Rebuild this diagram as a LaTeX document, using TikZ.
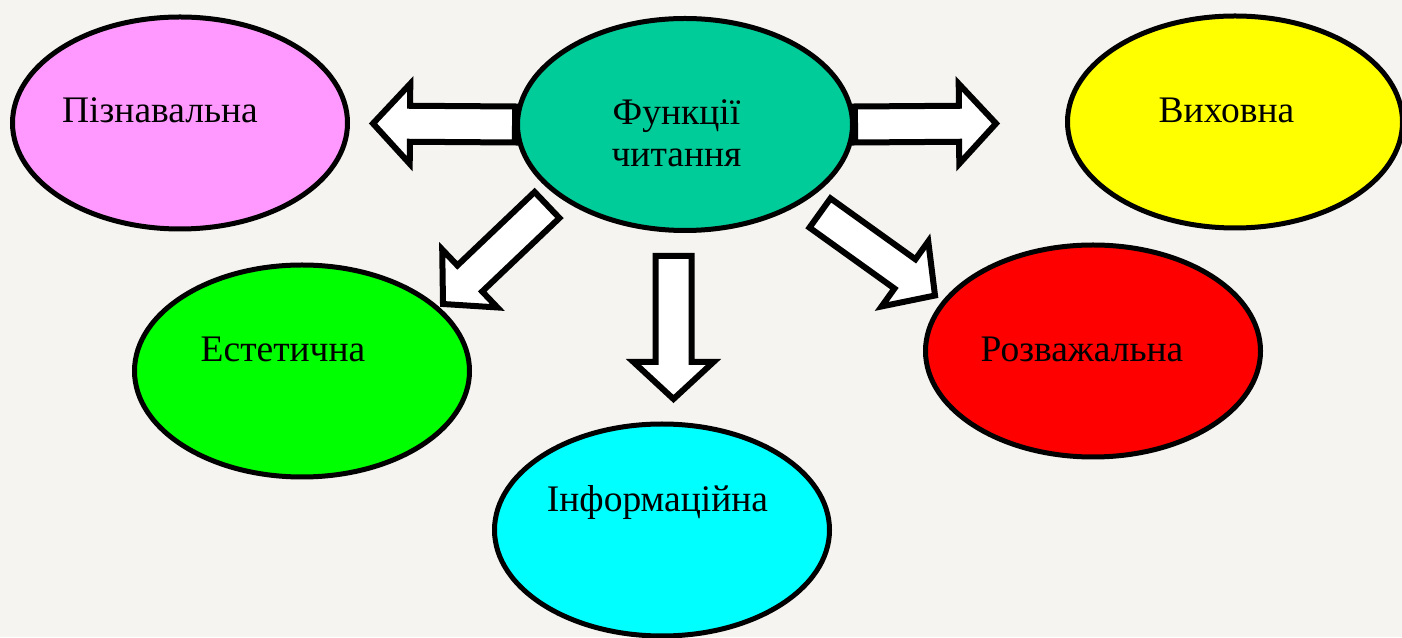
\documentclass[tikz,border=0pt]{standalone}
\usepackage{fontspec}
\setmainfont{Liberation Serif}
\usetikzlibrary{shapes.geometric,calc}
\definecolor{paper}{RGB}{245,244,240}
\definecolor{sea}{RGB}{0,204,153}
\definecolor{pink}{RGB}{255,153,255}
\definecolor{lemon}{RGB}{255,255,0}
\definecolor{lime}{RGB}{0,255,0}
\definecolor{scarlet}{RGB}{255,0,0}
\definecolor{aqua}{RGB}{0,255,255}
\begin{document}
\begin{tikzpicture}
[x=1pt,y=1pt,
  ovaldecorate/.style={shape=ellipse,draw,line width=5pt,inner sep=0pt,
    minimum width=335pt,minimum height=212pt},
  textdecorate/.style={anchor=base,inner sep=0pt,font=\fontsize{37.5}{42}\selectfont},
  arrowdecorate/.style={draw,line width=6pt,fill=white,line join=miter,
    to path={let \p1=(\tikztostart),\p2=(\tikztotarget),
      \n1={atan2(\y2-\y1,\x2-\x1)},\n2={veclen(\x2-\x1,\y2-\y1)} in
      ([shift={(\p1)},rotate=\n1]0,-18) -- ([shift={(\p1)},rotate=\n1]\n2-37,-18)
      -- ([shift={(\p1)},rotate=\n1]\n2-37,-40) -- (\p2)
      -- ([shift={(\p1)},rotate=\n1]\n2-37,40) -- ([shift={(\p1)},rotate=\n1]\n2-37,18)
      -- ([shift={(\p1)},rotate=\n1]0,18) -- cycle}}]
\useasboundingbox (0,0) rectangle (1402,637);
\fill[paper] (0,0) rectangle (1402,637);
% ovals
\node (fc) at (685,512.5) [ovaldecorate,fill=sea] {};
\node (fct) at (676.5,470) [textdecorate,align=center] {Функції\\читання};
\node (pz) at (180,514) [ovaldecorate,fill=pink] {};
\node (pzt) at (160,514) [textdecorate] {Пізнавальна};
\node (vh) at (1235,515) [ovaldecorate,fill=lemon] {};
\node (vht) at (1226.5,514) [textdecorate] {Виховна};
\node (es) at (302,266) [ovaldecorate,fill=lime] {};
\node (est) at (283,275) [textdecorate] {Естетична};
\node (rz) at (1093,286) [ovaldecorate,fill=scarlet] {};
\node (rzt) at (1082,275) [textdecorate] {Розважальна};
\node (inf) at (662,107) [ovaldecorate,fill=aqua] {};
\node (inft) at (657.5,125) [textdecorate] {Інформаційна};
% arrow ends
\coordinate (pztip) at (373,513.5);
\coordinate (vhtip) at (996,513.5);
\coordinate (estail) at (547,432);
\coordinate (estip) at (443,333);
\coordinate (inftail) at (673.5,381);
\coordinate (inftip) at (673.5,238);
\coordinate (rztail) at (820,424);
\coordinate (rztip) at (935,341.5);
% arrows
\path
(fc.west) edge[arrowdecorate] (pztip)
(fc.east) edge[arrowdecorate] (vhtip)
(estail) edge[arrowdecorate] (estip)
(inftail) edge[arrowdecorate] (inftip)
(rztail) edge[arrowdecorate] (rztip);
\end{tikzpicture}
\end{document}
